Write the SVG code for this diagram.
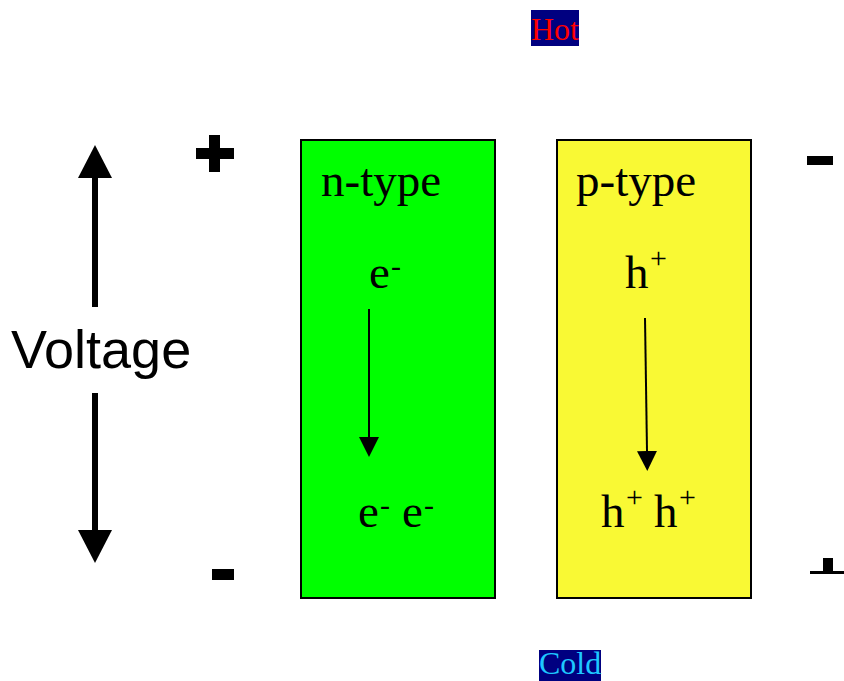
<svg xmlns="http://www.w3.org/2000/svg" width="844" height="681" viewBox="0 0 844 681">
  <style>
    .serif { font-family: "Liberation Serif", "Times New Roman", serif; fill: #000; }
    .big { font-size: 47px; }
    .sup { font-size: 30px; }
    .tag { font-size: 32px; }
    .sans { font-family: "Liberation Sans", Arial, sans-serif; fill: #000; }
    .sign { fill: #000; }
    .box { stroke: #000; stroke-width: 2; }
    .thin { stroke: #000; stroke-width: 2; fill: none; }
    .thick { stroke: #000; stroke-width: 6; fill: none; }
  </style>
  <defs>
    <marker id="headSmall" viewBox="0 0 20 20" refX="0" refY="10" markerUnits="userSpaceOnUse" markerWidth="20" markerHeight="20" orient="auto">
      <path d="M0,0 L20,10 L0,20 Z" fill="#000"/>
    </marker>
    <marker id="headBig" viewBox="0 0 33 34" refX="0" refY="17" markerUnits="userSpaceOnUse" markerWidth="33" markerHeight="34" orient="auto">
      <path d="M0,0 L33,17 L0,34 Z" fill="#000"/>
    </marker>
  </defs>

  <rect width="844" height="681" fill="#fff"/>

  <!-- hot / cold labels -->
  <g id="hot">
    <rect x="531" y="10" width="48" height="36" fill="#000080"/>
    <text x="531" y="40" class="serif tag" style="fill:#ff0000">Hot</text>
  </g>
  <g id="cold">
    <rect x="539" y="650" width="62" height="31" fill="#000080"/>
    <text x="539" y="674" class="serif tag" style="fill:#1ec8ff">Cold</text>
  </g>

  <!-- voltage label -->
  <g id="voltage">
    <text x="11" y="368" class="sans" style="font-size:54px">Voltage</text>
  </g>

  <!-- terminal signs -->
  <g id="sign-left-top">
    <rect x="196" y="148" width="38" height="11" class="sign"/>
    <rect x="209" y="135" width="11" height="37" class="sign"/>
  </g>
  <g id="sign-left-bottom">
    <rect x="212" y="569" width="22" height="11" class="sign"/>
  </g>
  <g id="sign-right-top">
    <rect x="807" y="156" width="26" height="9" class="sign"/>
  </g>
  <g id="sign-right-bottom">
    <rect x="823" y="558" width="10" height="16" class="sign"/>
    <rect x="810" y="571" width="34" height="3" class="sign"/>
  </g>

  <!-- n-type leg -->
  <g id="n-type">
    <rect x="301" y="140" width="194" height="458" fill="#00ff00" class="box"/>
    <text x="321" y="196" class="serif big">n-type</text>
    <text x="369" y="288" class="serif big">e</text>
    <text x="391" y="276" class="serif sup">-</text>
    <text x="358" y="527" class="serif big">e</text>
    <text x="380" y="515" class="serif sup">-</text>
    <text x="402" y="527" class="serif big">e</text>
    <text x="424" y="515" class="serif sup">-</text>
  </g>

  <!-- p-type leg -->
  <g id="p-type">
    <rect x="557" y="140" width="194" height="458" fill="#f9f934" class="box"/>
    <text x="576" y="196" class="serif big">p-type</text>
    <text x="625" y="288" class="serif big">h</text>
    <text x="650" y="268" class="serif sup">+</text>
    <text x="601" y="527" class="serif big">h</text>
    <text x="626" y="507" class="serif sup">+</text>
    <text x="654" y="527" class="serif big">h</text>
    <text x="679" y="507" class="serif sup">+</text>
  </g>

  <!-- arrows -->
  <g id="connectors">
    <line x1="95" y1="307" x2="95" y2="178" class="thick" marker-end="url(#headBig)"/>
    <line x1="95" y1="393" x2="95" y2="530" class="thick" marker-end="url(#headBig)"/>
    <line x1="369" y1="309" x2="369" y2="437" class="thin" marker-end="url(#headSmall)"/>
    <line x1="645" y1="318" x2="647" y2="451" class="thin" marker-end="url(#headSmall)"/>
  </g>
</svg>
